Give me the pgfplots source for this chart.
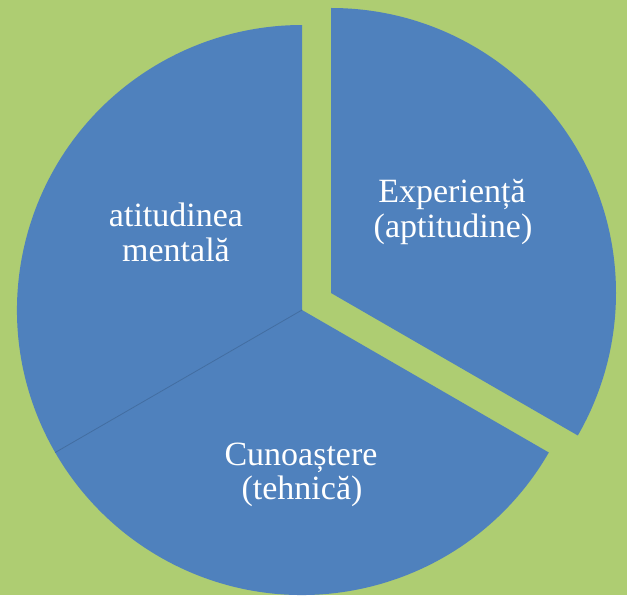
\documentclass[border=0pt]{standalone}
\usepackage{pgfplots}
\pgfplotsset{compat=1.18}
\usepackage{fontspec}
\setmainfont{Liberation Serif}
\definecolor{bg}{RGB}{174,205,114}
\definecolor{slice}{RGB}{79,129,189}
\definecolor{edge}{RGB}{60,100,150}
% slice shares (percent)
\def\vA{33.333}\def\vB{33.333}\def\vC{33.334}
\pgfmathsetmacro{\aA}{90}
\pgfmathsetmacro{\aB}{\aA-360*\vA/100}
\pgfmathsetmacro{\aC}{\aB-360*\vB/100}
\pgfmathsetmacro{\aD}{\aC-360*\vC/100}
\begin{document}
\begin{tikzpicture}
\begin{axis}[
  x=1pt, y=1pt, disabledatascaling,
  xmin=0, xmax=627, ymin=0, ymax=595,
  hide axis, clip=false, scale only axis,
]
\coordinate (ll) at (axis cs:0,0);
\coordinate (ur) at (axis cs:627,595);
\fill[bg] (axis cs:0,0) rectangle (axis cs:627,595);
% exploded slice: Experienta
\fill[slice] (axis cs:331,302) -- ++(\aA:285pt) arc[start angle=\aA, end angle=\aB, radius=285pt] -- cycle;
% bottom slice: Cunoastere
\fill[slice] (axis cs:302,285) -- ++(\aB:285pt) arc[start angle=\aB, end angle=\aC, radius=285pt] -- cycle;
% left slice: atitudinea mentala
\fill[slice] (axis cs:302,285) -- ++(\aC:285pt) arc[start angle=\aC, end angle=\aD, radius=285pt] -- cycle;
\draw[edge!70!slice, line width=0.8pt] (axis cs:302,285) -- ++(\aC:285pt);
\begin{scope}[every node/.style={text=white, font=\fontsize{34}{35}\selectfont, anchor=base, inner sep=0pt}]
\node at (axis cs:452,392) {Experiență};
\node at (axis cs:453,357) {(aptitudine)};
\node at (axis cs:301,130) {Cunoaștere};
\node at (axis cs:302,96) {(tehnică)};
\node at (axis cs:176,368) {atitudinea};
\node at (axis cs:176,333) {mentală};
\end{scope}
\end{axis}
\pgfresetboundingbox
\path[use as bounding box] (ll) rectangle (ur);
\end{tikzpicture}
\end{document}
